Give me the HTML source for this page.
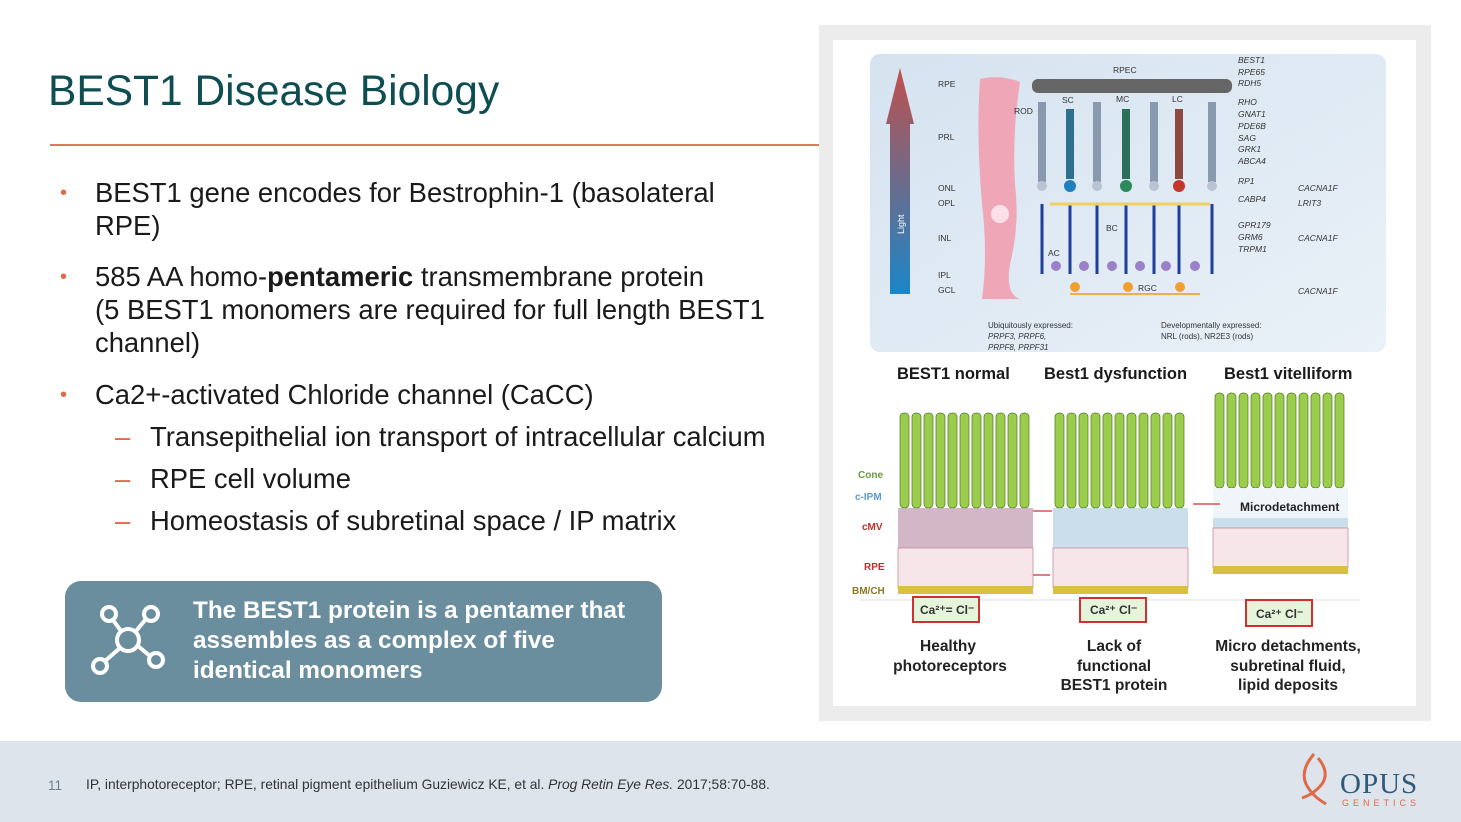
<!DOCTYPE html>
<html><head><meta charset="utf-8"><style>
*{margin:0;padding:0;box-sizing:border-box}
body{width:1461px;height:822px;position:relative;overflow:hidden;background:#fff;font-family:"Liberation Sans",Arial,sans-serif;color:#1a1a1a}
.a{position:absolute}
.t{font-size:27.4px;line-height:33px;white-space:nowrap}
.b{color:#e06a45;font-size:20px}
.d{color:#e06a45}
</style></head><body>
<div class="a" style="left:48px;top:68px;font-size:42.5px;color:#0e4e52">BEST1 Disease Biology</div>
<div class="a" style="left:50px;top:144px;width:770px;height:2px;background:#e07a55"></div>

<div class="a b" style="left:60px;top:182px">•</div>
<div class="a t" style="left:95px;top:176px">BEST1 gene encodes for Bestrophin-1 (basolateral<br>RPE)</div>
<div class="a b" style="left:60px;top:266px">•</div>
<div class="a t" style="left:95px;top:260px">585 AA homo-<b>pentameric</b> transmembrane protein<br>(5 BEST1 monomers are required for full length BEST1<br>channel)</div>
<div class="a b" style="left:60px;top:384px">•</div>
<div class="a t" style="left:95px;top:378px">Ca2+-activated Chloride channel (CaCC)</div>
<div class="a t" style="left:115px;top:420px"><span class="d">–</span></div>
<div class="a t" style="left:150px;top:420px">Transepithelial ion transport of intracellular calcium</div>
<div class="a t" style="left:115px;top:462px"><span class="d">–</span></div>
<div class="a t" style="left:150px;top:462px">RPE cell volume</div>
<div class="a t" style="left:115px;top:504px"><span class="d">–</span></div>
<div class="a t" style="left:150px;top:504px">Homeostasis of subretinal space / IP matrix</div>

<div class="a" style="left:65px;top:581px;width:597px;height:121px;background:#6a8e9e;border-radius:16px"></div>
<svg class="a" style="left:88px;top:600px" width="80" height="80" viewBox="0 0 80 80" fill="none" stroke="#fff" stroke-width="4">
<circle cx="40" cy="40" r="11"/><circle cx="21" cy="14" r="7"/><circle cx="63" cy="14" r="7"/><circle cx="12" cy="66" r="7"/><circle cx="68" cy="60" r="7"/>
<line x1="33" y1="31" x2="25" y2="20"/><line x1="48" y1="31" x2="58" y2="19"/><line x1="32" y1="48" x2="17" y2="61"/><line x1="50" y1="46" x2="62" y2="56"/></svg>
<div class="a" style="left:193px;top:596px;color:#fff;font-weight:bold;font-size:24.3px;line-height:30px;white-space:nowrap">The BEST1 protein is a pentamer that<br>assembles as a complex of five<br>identical monomers</div>

<div class="a" style="left:819px;top:25px;width:612px;height:696px;background:#ececec"></div>
<div class="a" style="left:833px;top:40px;width:583px;height:666px;background:#fff"></div>

<svg class="a" style="left:870px;top:54px" width="516" height="298" viewBox="0 0 516 298" font-family="Liberation Sans,Arial,sans-serif">
<defs><linearGradient id="bg" x1="0" y1="0" x2="1" y2="1"><stop offset="0" stop-color="#d5e3f0"/><stop offset="1" stop-color="#eaf1f8"/></linearGradient>
<linearGradient id="ar" x1="0" y1="0" x2="0" y2="1"><stop offset="0" stop-color="#c0504d"/><stop offset="1" stop-color="#1a86c7"/></linearGradient></defs>
<rect width="516" height="298" rx="10" fill="url(#bg)"/>
<polygon points="30,14 44,70 40,70 40,240 20,240 20,70 16,70" fill="url(#ar)"/>
<text x="34" y="180" font-size="9" fill="#fff" transform="rotate(-90 34 180)">Light</text>
<g font-size="8.5" fill="#333"><text x="68" y="33">RPE</text><text x="68" y="86">PRL</text><text x="68" y="137">ONL</text><text x="68" y="152">OPL</text><text x="68" y="187">INL</text><text x="68" y="224">IPL</text><text x="68" y="239">GCL</text></g>
<path d="M110 25 Q130 20 150 28 Q142 80 145 130 Q150 170 140 210 Q135 240 150 245 L112 245 Q118 200 112 150 Q106 80 110 25Z" fill="#efa7b8"/>
<circle cx="130" cy="160" r="9" fill="#fbe0e8"/>
<g fill="#666"><rect x="162" y="25" width="200" height="14" rx="6"/></g>
<g fill="#8a9aae">
<rect x="168" y="48" width="8" height="80"/><rect x="196" y="55" width="8" height="70" fill="#2e6e8e"/><rect x="223" y="48" width="8" height="80"/><rect x="252" y="55" width="8" height="70" fill="#2c6e5a"/><rect x="280" y="48" width="8" height="80"/><rect x="305" y="55" width="8" height="70" fill="#8a4a40"/><rect x="338" y="48" width="8" height="80"/></g>
<g><circle cx="172" cy="132" r="5" fill="#b8c4d4"/><circle cx="200" cy="132" r="6" fill="#1f7fbf"/><circle cx="227" cy="132" r="5" fill="#b8c4d4"/><circle cx="256" cy="132" r="6" fill="#2a8a5a"/><circle cx="284" cy="132" r="5" fill="#b8c4d4"/><circle cx="309" cy="132" r="6" fill="#c0392b"/><circle cx="342" cy="132" r="5" fill="#b8c4d4"/></g>
<g stroke="#1f3f9a" stroke-width="3"><line x1="172" y1="150" x2="172" y2="220"/><line x1="200" y1="150" x2="200" y2="220"/><line x1="227" y1="150" x2="227" y2="220"/><line x1="256" y1="150" x2="256" y2="220"/><line x1="284" y1="150" x2="284" y2="220"/><line x1="309" y1="150" x2="309" y2="220"/><line x1="342" y1="150" x2="342" y2="220"/></g>
<g fill="#9a80c8"><circle cx="186" cy="212" r="5"/><circle cx="214" cy="212" r="5"/><circle cx="242" cy="212" r="5"/><circle cx="270" cy="212" r="5"/><circle cx="296" cy="212" r="5"/><circle cx="325" cy="212" r="5"/></g>
<line x1="180" y1="150" x2="340" y2="150" stroke="#f0d060" stroke-width="3"/>
<line x1="200" y1="240" x2="330" y2="240" stroke="#f0b040" stroke-width="2"/>
<g fill="#f0a030"><circle cx="205" cy="233" r="5"/><circle cx="258" cy="233" r="5"/><circle cx="310" cy="233" r="5"/></g>
<g font-size="8.5" fill="#333"><text x="243" y="19">RPEC</text><text x="144" y="60">ROD</text><text x="192" y="49">SC</text><text x="246" y="48">MC</text><text x="302" y="48">LC</text><text x="236" y="177">BC</text><text x="178" y="202">AC</text><text x="268" y="237">RGC</text></g>
<g font-size="8.5" fill="#333" font-style="italic"><text x="368" y="9">BEST1</text><text x="368" y="21">RPE65</text><text x="368" y="32">RDH5</text><text x="368" y="51">RHO</text><text x="368" y="63">GNAT1</text><text x="368" y="75">PDE6B</text><text x="368" y="87">SAG</text><text x="368" y="98">GRK1</text><text x="368" y="110">ABCA4</text><text x="368" y="130">RP1</text><text x="368" y="148">CABP4</text><text x="368" y="174">GPR179</text><text x="368" y="186">GRM6</text><text x="368" y="198">TRPM1</text><text x="428" y="137">CACNA1F</text><text x="428" y="152">LRIT3</text><text x="428" y="187">CACNA1F</text><text x="428" y="240">CACNA1F</text></g>
<g font-size="8" fill="#333"><text x="118" y="274">Ubiquitously expressed:</text><text x="118" y="285" font-style="italic">PRPF3, PRPF6,</text><text x="118" y="296" font-style="italic">PRPF8, PRPF31</text><text x="291" y="274">Developmentally expressed:</text><text x="291" y="285">NRL (rods), NR2E3 (rods)</text></g>
</svg>

<div class="a" style="left:897px;top:365px;font-weight:bold;font-size:16.5px;white-space:nowrap">BEST1 normal</div>
<div class="a" style="left:1044px;top:365px;font-weight:bold;font-size:16.5px;white-space:nowrap">Best1 dysfunction</div>
<div class="a" style="left:1224px;top:365px;font-weight:bold;font-size:16.5px;white-space:nowrap">Best1 vitelliform</div>

<svg class="a" style="left:850px;top:388px" width="520" height="320" viewBox="0 0 520 320" font-family="Liberation Sans,Arial,sans-serif">
<g id="p">
<g fill="#9ccc4c" stroke="#4a7a20" stroke-width="0.7">
<rect x="50" y="25" width="9" height="95" rx="4"/><rect x="62" y="25" width="9" height="95" rx="4"/><rect x="74" y="25" width="9" height="95" rx="4"/><rect x="86" y="25" width="9" height="95" rx="4"/><rect x="98" y="25" width="9" height="95" rx="4"/><rect x="110" y="25" width="9" height="95" rx="4"/><rect x="122" y="25" width="9" height="95" rx="4"/><rect x="134" y="25" width="9" height="95" rx="4"/><rect x="146" y="25" width="9" height="95" rx="4"/><rect x="158" y="25" width="9" height="95" rx="4"/><rect x="170" y="25" width="9" height="95" rx="4"/></g>
<rect x="48" y="120" width="135" height="40" fill="#a8c8e0" opacity="0.6"/>
<rect x="48" y="160" width="135" height="40" fill="#f6e6ea" stroke="#c08090" stroke-width="0.7"/>
<rect x="48" y="198" width="135" height="8" fill="#d8c040"/>
</g>
<use href="#p" x="155"/>
<g transform="translate(315,-20)"><use href="#p"/></g>
<rect x="360" y="100" width="150" height="30" fill="#fff" opacity="0.7"/>
<rect x="48" y="120" width="135" height="40" fill="#e07080" opacity="0.35"/>
<g font-size="10" font-weight="bold"><text x="8" y="90" fill="#6a9a40">Cone</text><text x="5" y="112" fill="#5a9ad0">c-IPM</text><text x="12" y="142" fill="#c03030">cMV</text><text x="14" y="182" fill="#c03030">RPE</text><text x="2" y="206" fill="#8a7a20">BM/CH</text>
<text x="390" y="123" fill="#222" font-size="12">Microdetachment</text></g>
<g stroke="#d03030" stroke-width="1.3"><line x1="183" y1="123" x2="202" y2="123"/><line x1="183" y1="187" x2="200" y2="187"/><line x1="343" y1="116" x2="370" y2="116"/></g>
<line x1="10" y1="212" x2="510" y2="212" stroke="#ddd"/>
<g fill="#e6f4dc" stroke="#d03030" stroke-width="2"><rect x="63" y="209" width="66" height="25"/><rect x="230" y="210" width="66" height="24"/><rect x="396" y="212" width="66" height="26"/></g>
<g font-size="12" font-weight="bold" fill="#333"><text x="70" y="226">Ca²⁺= Cl⁻</text><text x="240" y="226">Ca²⁺  Cl⁻</text><text x="406" y="230">Ca²⁺  Cl⁻</text></g>
<g font-size="15.5" font-weight="bold" fill="#222" text-anchor="middle"><text x="98" y="263">Healthy</text><text x="100" y="283">photoreceptors</text>
<text x="264" y="263">Lack of</text><text x="264" y="283">functional</text><text x="264" y="302">BEST1 protein</text>
<text x="438" y="263">Micro detachments,</text><text x="438" y="283">subretinal fluid,</text><text x="438" y="302">lipid deposits</text></g>
</svg>

<div class="a" style="left:0;top:741px;width:1461px;height:81px;background:#dde4ec"></div>
<div class="a" style="left:48px;top:778px;font-size:13.5px;color:#6a7f90">11</div>
<div class="a" style="left:86px;top:777px;font-size:13.8px;color:#333;white-space:nowrap">IP, interphotoreceptor; RPE, retinal pigment epithelium Guziewicz KE, et al. <i>Prog Retin Eye Res.</i> 2017;58:70-88.</div>
<svg class="a" style="left:1296px;top:750px" width="40" height="60"><path d="M18 4 Q4 20 10 34 Q16 46 30 54 M22 8 Q34 22 26 34 Q18 44 6 48" fill="none" stroke="#e06a45" stroke-width="3"/></svg>
<div class="a" style="left:1340px;top:768px;font-family:'Liberation Serif',serif;font-size:29px;color:#2f5a7a;letter-spacing:1px">OPUS</div>
<div class="a" style="left:1342px;top:798px;font-size:9px;color:#e06a45;letter-spacing:4px">GENETICS</div>
</body></html>
